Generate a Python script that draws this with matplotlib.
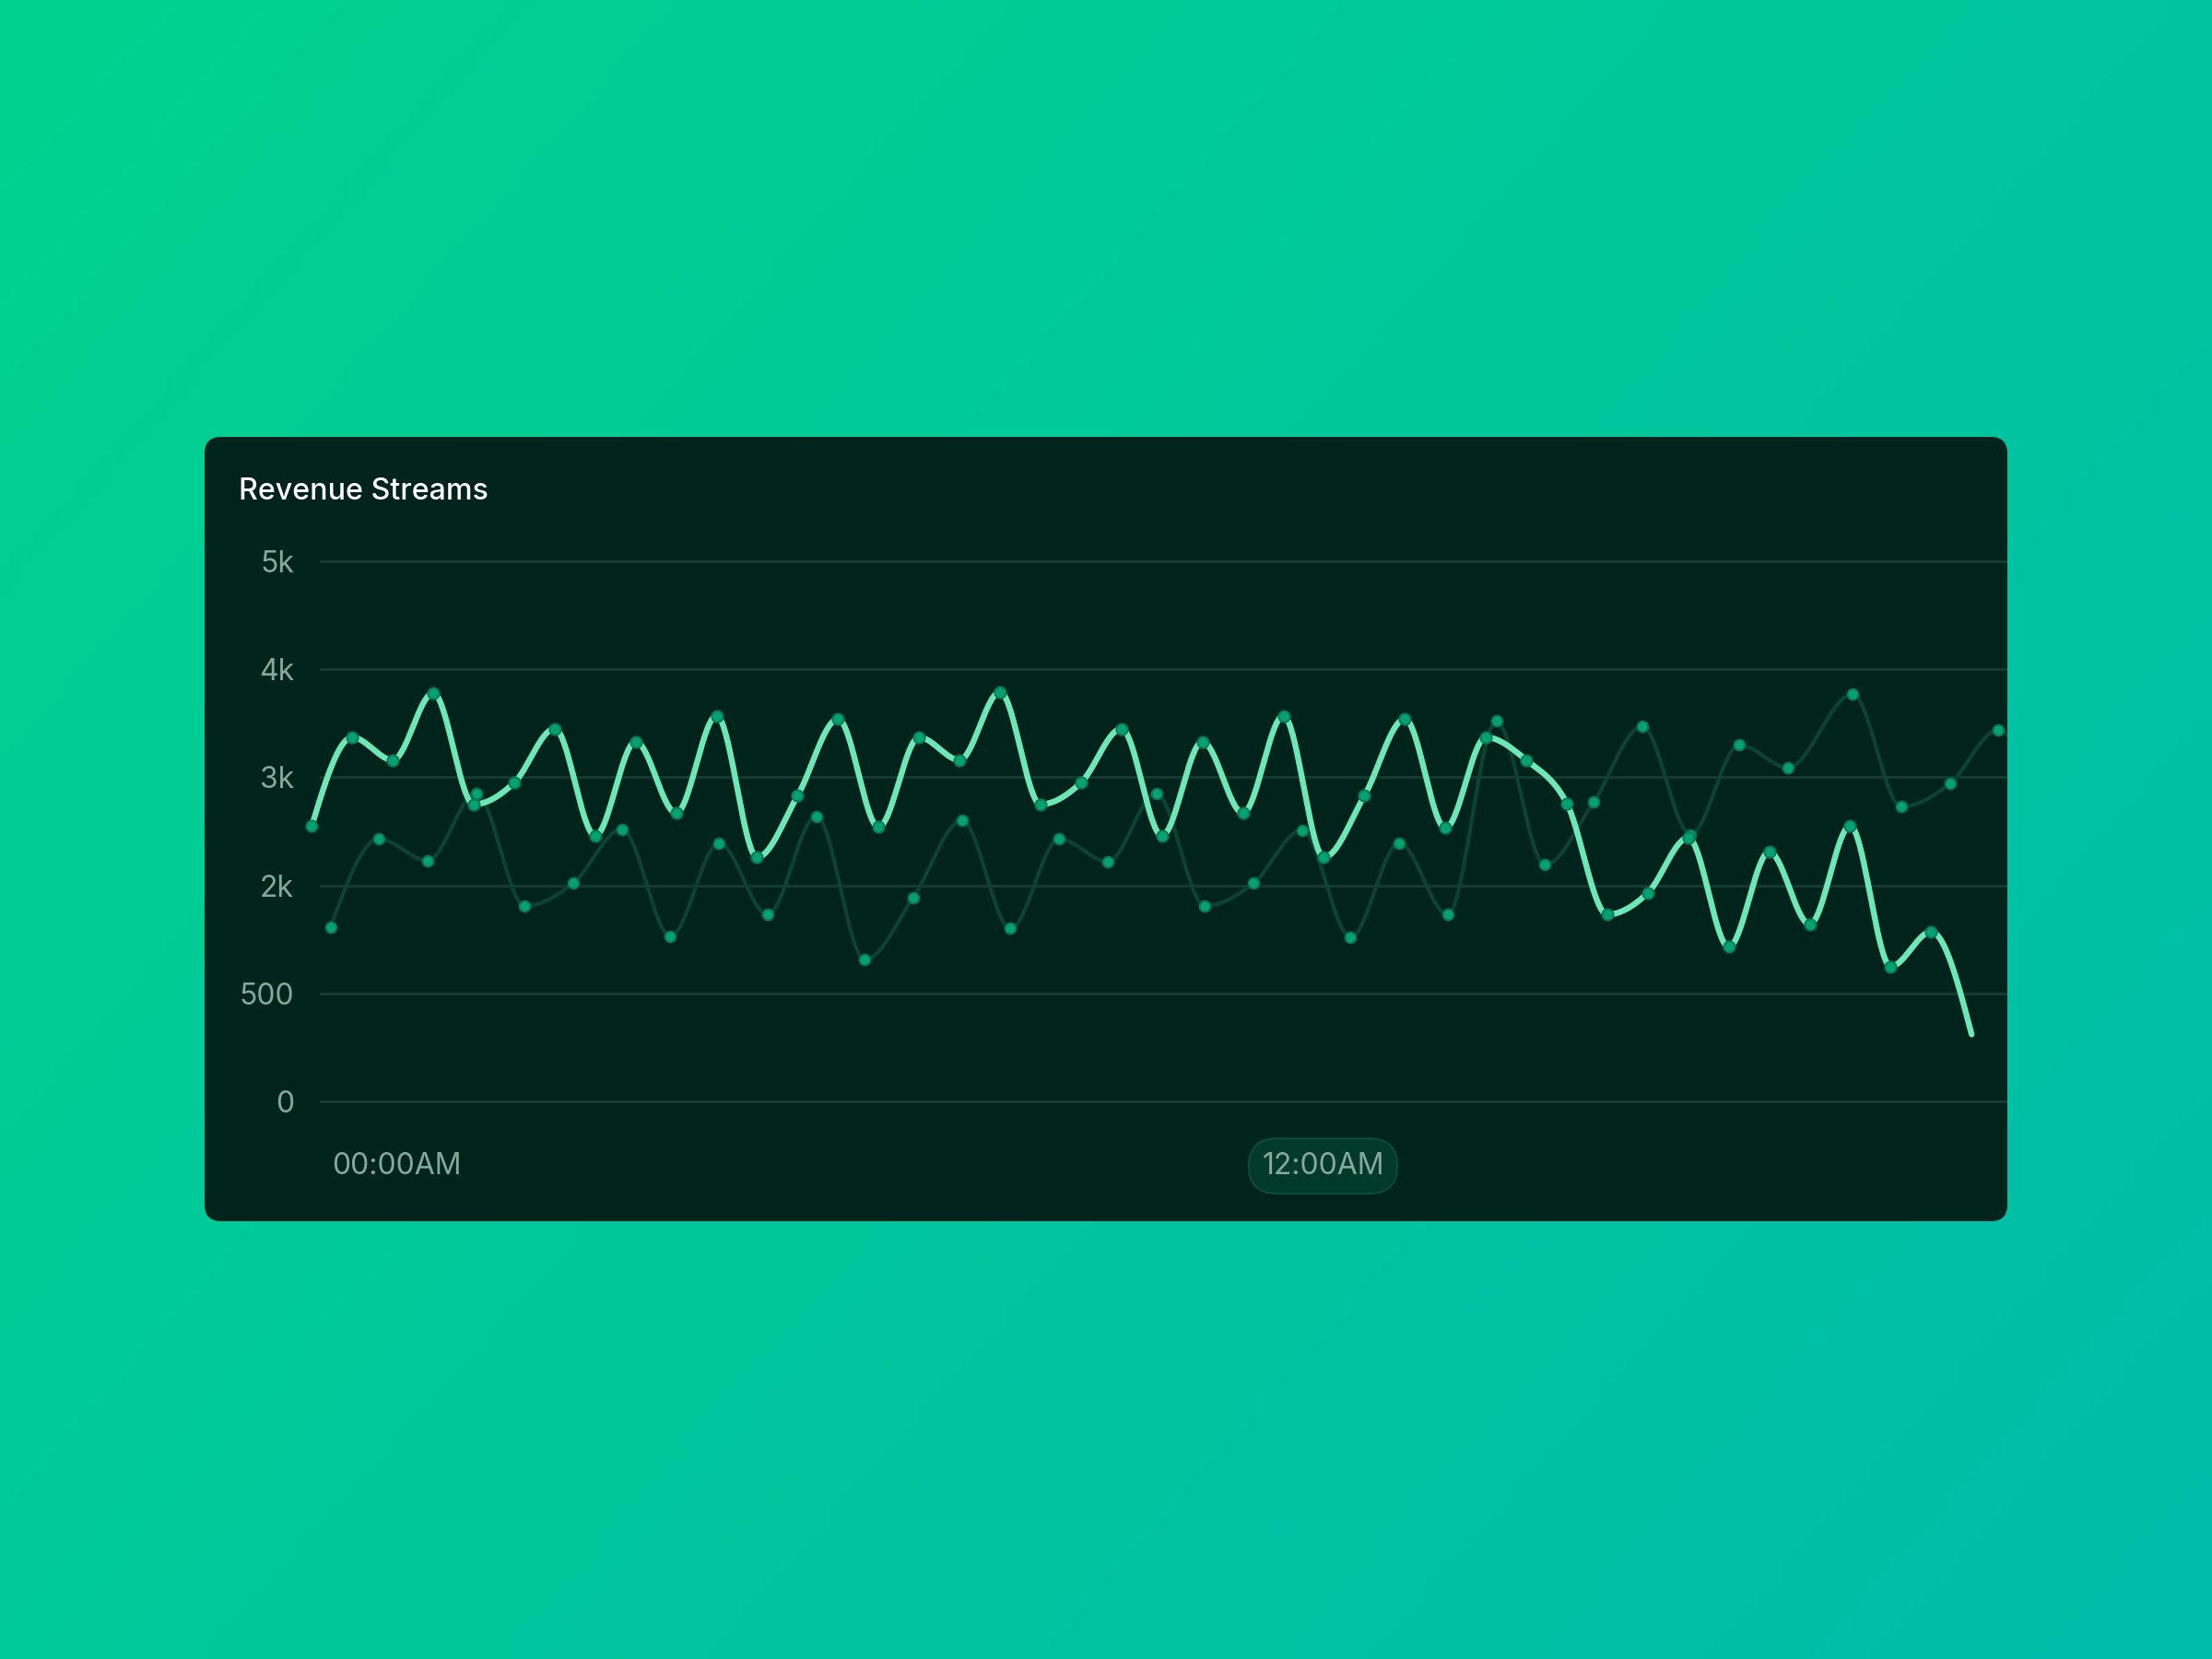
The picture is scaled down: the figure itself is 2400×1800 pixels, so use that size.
import numpy as np
import matplotlib.pyplot as plt
from matplotlib.patches import FancyBboxPatch

plt.rcParams['font.family'] = ['Inter', 'DejaVu Sans']

# data (y in axis-position units, x in minutes)
main_t = [25 * i for i in range(42)]
main_v = [2.55, 3.37, 3.16, 3.78, 2.75, 2.95, 3.45, 2.46, 3.33, 2.67, 3.57, 2.26, 2.83, 3.54,
          2.54, 3.37, 3.16, 3.79, 2.75, 2.95, 3.45, 2.46, 3.33, 2.67, 3.57, 2.26, 2.83, 3.54,
          2.53, 3.37, 3.16, 2.76, 1.73, 1.93, 2.44, 1.43, 2.31, 1.64, 2.55, 1.25, 1.57, 0.62]

second_t = [11.5 + 30 * i for i in range(31)] + [951.5, 981.5, 1011.5, 1041.5, 1071.5]
second_v = [1.61, 2.43, 2.23, 2.85, 1.81, 2.02, 2.52, 1.53, 2.39, 1.73, 2.64,
            1.31, 1.89, 2.60, 1.60, 2.43, 2.22, 2.85, 1.81, 2.02, 2.51, 1.52, 2.39, 1.73,
            3.52, 2.19, 2.77, 3.47, 2.47, 3.30, 3.09,
            3.77, 2.73, 2.94, 3.44, 2.45]

y_ticks = [0, 1, 2, 3, 4, 5]
y_labels = ['0', '500', '2k', '3k', '4k', '5k']
x_ticks = [12.3, 624.5]
x_labels = ['00:00AM', '12:00AM']


def monotone(x, y, n=40):
    # monotone cubic (same idea as d3 curveMonotoneX)
    x = np.asarray(x, float)
    y = np.asarray(y, float)
    h = np.diff(x)
    s = np.diff(y) / h
    m = np.zeros(len(x))
    for i in range(1, len(x) - 1):
        p = (s[i - 1] * h[i] + s[i] * h[i - 1]) / (h[i - 1] + h[i])
        m[i] = (np.sign(s[i - 1]) + np.sign(s[i])) * min(abs(s[i - 1]), abs(s[i]), 0.5 * abs(p))
    m[0] = (3 * s[0] - m[1]) / 2
    m[-1] = (3 * s[-1] - m[-2]) / 2
    xs, ys = [], []
    for i in range(len(x) - 1):
        u = np.linspace(0, 1, n)
        h00 = 2 * u**3 - 3 * u**2 + 1
        h10 = u**3 - 2 * u**2 + u
        h01 = -2 * u**3 + 3 * u**2
        h11 = u**3 - u**2
        xs.append(x[i] + u * h[i])
        ys.append(h00 * y[i] + h10 * h[i] * m[i] + h01 * y[i + 1] + h11 * h[i] * m[i + 1])
    return np.concatenate(xs), np.concatenate(ys)


W, H = 2400, 1800
fig = plt.figure(figsize=(12, 9), dpi=200)

# gradient background + card
bg = fig.add_axes([0, 0, 1, 1])
bg.set_xlim(0, W)
bg.set_ylim(H, 0)
bg.axis('off')
gx, gy = np.meshgrid(np.linspace(0, 1, 200), np.linspace(0, 1, 150))
g = (gx * 0.6 + gy * 0.4)[..., None]
c0 = np.array([0, 210, 142]) / 255
c1 = np.array([0, 188, 170]) / 255
bg.imshow(c0 + (c1 - c0) * g, extent=[0, W, H, 0], aspect='auto')
bg.add_patch(FancyBboxPatch((222, 474), 1956, 851, boxstyle='round,pad=0,rounding_size=18',
                            fc='#00241c', ec='none'))

fig.text(259 / W, 1 - 534 / H, 'Revenue Streams', color='white', fontsize=11.6,
         fontweight='medium', va='center', ha='left')

ax = fig.add_axes([326 / W, 1 - 1230.2 / H, (2178 - 326) / W, (1230.2 - 573.8) / H])
ax.set_facecolor('none')
ax.set_xlim(-7.0, 1047.06)
ax.set_ylim(-0.3, 5.3)
for sp in ax.spines.values():
    sp.set_visible(False)

for v in y_ticks:
    ax.axhline(v, xmin=0.0119, xmax=1, color='#163a2f', lw=1.1, zorder=0)

sx, sy = monotone(second_t, second_v)
ax.plot(sx, sy, color='#0b4231', lw=1.5, zorder=2)
mx, my = monotone(main_t, main_v)
ax.plot(mx, my, color='#6ee7b7', lw=2.3, zorder=3, solid_capstyle='round')

ax.plot(second_t, second_v, ls='none', marker='o', ms=4.2, mfc='#06a071', mec='#067a57',
        mew=0.7, zorder=4)
ax.plot(main_t[:-1], main_v[:-1], ls='none', marker='o', ms=4.4, mfc='#06a071', mec='#067a57',
        mew=0.7, zorder=5)

ax.set_yticks(y_ticks)
ax.set_yticklabels(y_labels)
ax.set_xticks(x_ticks)
ax.set_xticklabels(x_labels)
ax.tick_params(length=0, labelsize=11.5, labelcolor='#86a89b')
ax.tick_params(axis='y', pad=2.5)
ax.tick_params(axis='x', pad=7)
xl = ax.get_xticklabels()
xl[0].set_ha('left')
xl[1].set_bbox(dict(boxstyle='round,pad=0.45,rounding_size=0.95', fc='#023a2a', ec='#0c4a37', lw=0.8))

fig.savefig('out.png', dpi=200)
